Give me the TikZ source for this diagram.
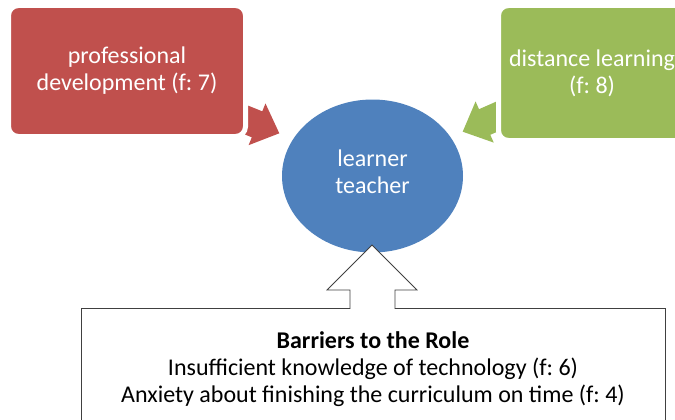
\documentclass[tikz,border=0pt]{standalone}
\usepackage{fontspec}
\setmainfont{Carlito}
\usetikzlibrary{shapes.geometric}
\frenchspacing

\definecolor{pdred}{HTML}{C0504D}
\definecolor{dlgreen}{HTML}{9BBB59}
\definecolor{ltblue}{HTML}{4F81BD}

\begin{document}
\begin{tikzpicture}[
                    x=1pt, y=-1pt,
                    font=\fontsize{24}{27}\selectfont,
                    red_box/.style={rectangle, rounded corners=10pt, fill=pdred, draw=white, line width=5pt, text=white, align=center, minimum width=237pt, minimum height=131pt},
                    green_box/.style={rectangle, rounded corners=10pt, fill=dlgreen, draw=white, line width=5pt, text=white, align=center, minimum width=187pt, minimum height=135pt},
                    blue_node/.style={ellipse, fill=ltblue, text=white, align=center, minimum width=181pt, minimum height=153pt, inner sep=0pt, text depth=8pt},
                    barrier_box/.style={rectangle, draw=black!75, fill=white, line width=0.8pt, align=center, minimum width=584pt, inner xsep=0pt, inner ysep=23pt},
                    up_arrow/.style={draw=black!75, line width=0.8pt}
                ]
                    \useasboundingbox (0,0) rectangle (675,420);
                    \clip (0,0) rectangle (675,420);
                    % side arrows, behind the boxes
                    \fill[pdred, shift={(279.3,133.3)}, rotate=-22]
                        (0,0) -- (-24,22.5) -- (-24,14) -- (-60,14) -- (-60,-14) -- (-24,-14) -- (-24,-22.5) -- cycle;
                    \fill[dlgreen, shift={(462.7,131.7)}, rotate=203.8]
                        (0,0) -- (-24,22.5) -- (-24,14) -- (-60,14) -- (-60,-14) -- (-24,-14) -- (-24,-22.5) -- cycle;
                    \node[red_box] (pd) at (127,71) {professional\\development (f: 7)};
                    \node[green_box] (dl) at (592,73) {distance learning\\(f: 8)};
                    \node[blue_node] (lt) at (372.5,176) {learner\\teacher};
                    \node[barrier_box, anchor=north] (barriers) at (373,308) {\textbf{Barriers to the Role}\\Insufficient knowledge of technology (f: 6)\\Anxiety about finishing the curriculum on time (f: 4)};
                    % arrow from the barriers up to the teacher
                    \fill[white] (350.4,309) -- (350.4,290) -- (327,290) -- (372,245) -- (417,290) -- (394.6,290) -- (394.6,309) -- cycle;
                    \draw[up_arrow] (350,308) -- (350,290) -- (327,290) -- (372,245) -- (417,290) -- (395,290) -- (395,308);
                \end{tikzpicture}
\end{document}
